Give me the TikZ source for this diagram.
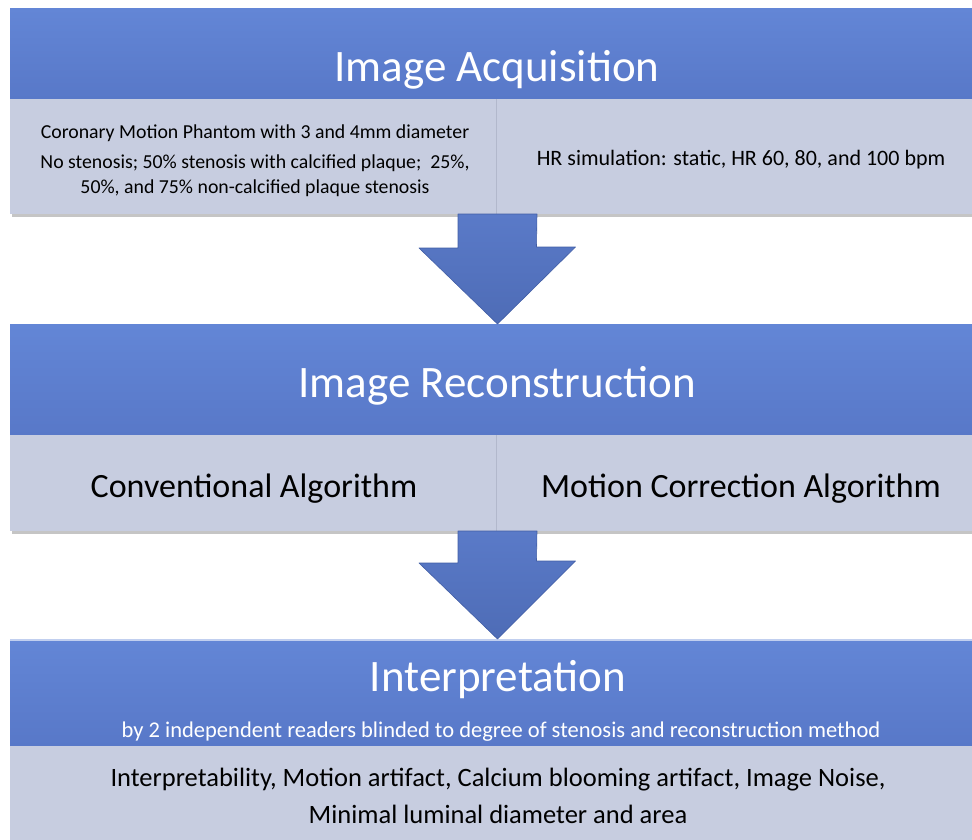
\documentclass[tikz,border=0pt]{standalone}
\usepackage{fontspec}
\setmainfont{Carlito}
\definecolor{hdrtop}{RGB}{99,134,214}
\definecolor{hdrbot}{RGB}{88,120,200}
\definecolor{panel}{RGB}{199,205,224}
\definecolor{panelline}{RGB}{178,184,204}
\definecolor{arrowtop}{RGB}{90,122,200}
\definecolor{arrowbot}{RGB}{78,108,182}
\definecolor{arrowedge}{RGB}{66,94,165}
\tikzset{
  header/.style={top color=hdrtop, bottom color=hdrbot, draw=none,
    anchor=north west, inner sep=0pt},
  panelbox/.style={fill=panel, draw=none, anchor=north west, inner sep=0pt},
  dropshadow/.style={fill=black!45, opacity=0.5},
  title/.style={text=white, font=\fontsize{45}{52}\selectfont},
  subtitle/.style={text=white, font=\fontsize{22.5}{26}\selectfont},
  bodytext/.style={text=black, align=center},
  flowarrow/.style={top color=arrowtop, bottom color=arrowbot,
    draw=arrowedge, line width=0.6pt, line join=round},
  divider/.style={draw=panelline, line width=1pt}
}
\begin{document}
\begin{tikzpicture}[x=1pt,y=-1pt]
\useasboundingbox (0,0) rectangle (972,839);

% ---------- stage 1: acquisition ----------
\fill[dropshadow] (12,12) rectangle (975,217);
\node[header, minimum width=965pt, minimum height=91pt] (h1) at (10,8) {};
\node[panelbox, minimum width=965pt, minimum height=115pt] (p1) at (10,99) {};
\draw[divider] (496,99) -- (496,214);
\node[title] (t1) at (497,70) {Image Acquisition};
\node[bodytext, font=\fontsize{19.8}{23}\selectfont] (phantom) at (255,133.5)
  {Coronary Motion Phantom with 3 and 4mm diameter};
\node[bodytext, font=\fontsize{19.8}{25.5}\selectfont] (stenosis) at (255,175.5)
  {No stenosis; 50\% stenosis with calcified plaque;\ \ 25\%,\\
   50\%, and 75\% non-calcified plaque stenosis};
\node[bodytext, font=\fontsize{22}{26}\selectfont] (hr) at (741,160)
  {HR simulation: static, HR 60, 80, and 100 bpm};

% ---------- stage 2: reconstruction ----------
\fill[dropshadow] (12,328) rectangle (975,534);
\node[header, minimum width=965pt, minimum height=111pt] (h2) at (10,324) {};
\node[panelbox, minimum width=965pt, minimum height=96pt] (p2) at (10,435) {};
\draw[divider] (496,435) -- (496,531);
\node[title] (t2) at (497,386) {Image Reconstruction};
\node[bodytext, font=\fontsize{34}{40}\selectfont] (conv) at (254,489)
  {Conventional Algorithm};
\node[bodytext, font=\fontsize{34}{40}\selectfont] (mc) at (741,489)
  {Motion Correction Algorithm};

% ---------- stage 3: interpretation ----------
\fill[dropshadow] (12,643) rectangle (975,845);
\node[header, minimum width=965pt, minimum height=107pt] (h3) at (10,639) {};
\node[panelbox, minimum width=965pt, minimum height=100pt] (p3) at (10,746) {};
\draw[white!60!hdrtop, line width=1.5pt] (10,640) -- (975,640);
\node[title] (t3) at (498,680) {Interpretation};
\node[subtitle] (readers) at (501,732)
  {by 2 independent readers blinded to degree of stenosis and reconstruction method};
\node[bodytext, font=\fontsize{26.5}{37}\selectfont] (measures) at (498,796)
  {Interpretability, Motion artifact, Calcium blooming artifact, Image Noise,\\
   Minimal luminal diameter and area};

% ---------- connecting arrows ----------
\coordinate (a1) at (497.5,214);
\coordinate (a2) at (497.5,531);
\draw[flowarrow]
  ([xshift=-39.5pt]a1) -- ++(0,34) -- ++(-39,0) -- (a1 |- h2.north) -- ++(78,-77)
  -- ++(-39,0) -- ([xshift=39.5pt]a1) -- cycle;
\draw[flowarrow]
  ([xshift=-39.5pt]a2) -- ++(0,32) -- ++(-39,0) -- (a2 |- h3.north) -- ++(78,-78)
  -- ++(-39,0) -- ([xshift=39.5pt]a2) -- cycle;
\end{tikzpicture}
\end{document}
